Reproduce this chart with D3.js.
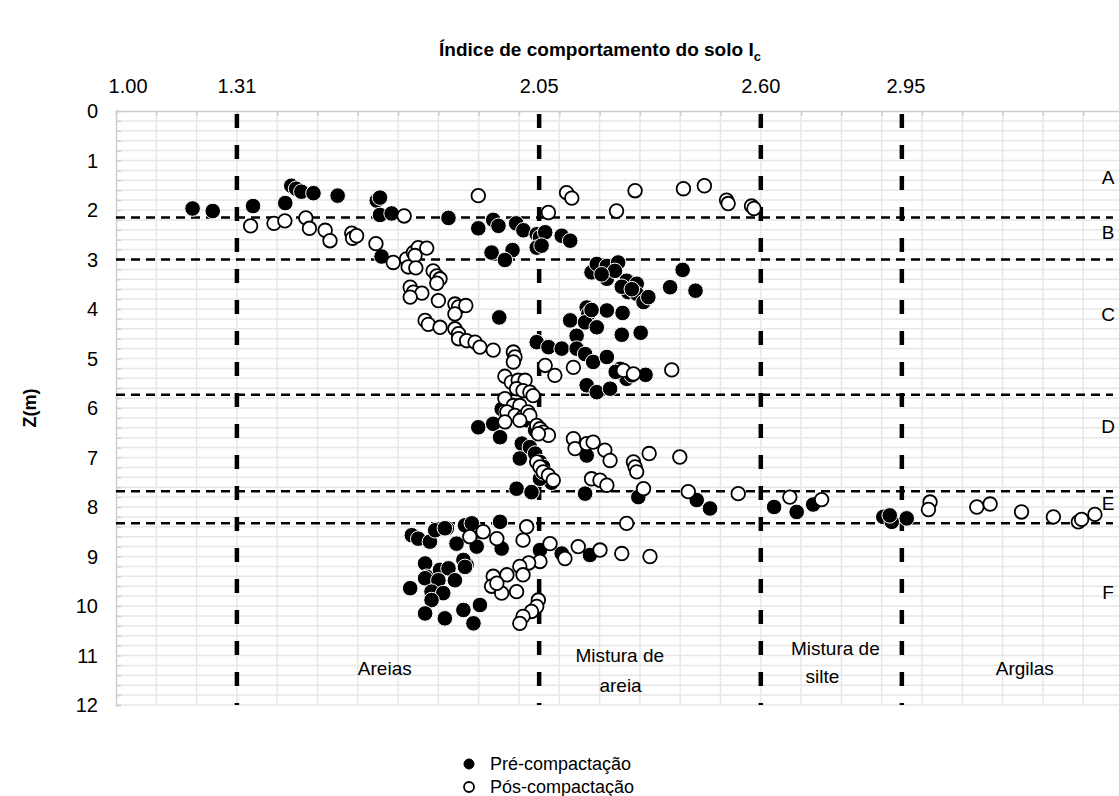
<!DOCTYPE html>
<html><head><meta charset="utf-8">
<script src="https://cdn.jsdelivr.net/npm/d3@7"></script>
<style>body{margin:0;background:#fff}svg{display:block;font-family:"Liberation Sans",Arial,sans-serif}</style>
</head><body><svg id="c" width="1119" height="796"></svg>
<script>
const preData = [
[1.19,1.97],[1.24,2.02],[1.34,1.92],[1.42,1.86],[1.435,1.51],[1.447,1.57],[1.46,1.63],[1.49,1.66],[1.55,1.71],[1.647,1.81],[1.655,1.75],[1.655,2.10],[1.684,2.07],[1.825,2.16],
[1.899,2.37],[1.936,2.20],[1.949,2.32],[1.993,2.27],[2.011,2.41],[2.044,2.49],[2.052,2.55],[2.065,2.45],[2.044,2.76],[2.056,2.72],[2.106,2.52],[2.127,2.62],[1.932,2.86],[1.984,2.81],[1.965,3.01],[1.659,2.94],
[1.951,4.17],[2.180,3.26],[2.193,3.09],[2.218,3.13],[2.246,3.06],[2.218,3.39],[2.238,3.23],[2.267,3.43],[2.292,3.49],[2.271,3.66],[2.292,3.69],[2.309,3.86],[2.321,3.76],[2.375,3.56],[2.406,3.21],[2.438,3.63],[2.127,4.23],[2.168,3.97],[2.172,4.10],[2.164,4.27],[2.193,4.37],[2.218,4.03],[2.257,4.08],[2.255,4.52],[2.302,4.48],[2.143,4.54],[2.044,4.67],[2.073,4.77],[2.106,4.80],[2.143,4.80],[2.164,4.91],[2.184,5.07],[2.218,4.97],[2.251,5.21],[2.267,5.41],[2.280,5.34],[2.314,5.33],[2.168,5.54],[2.193,5.68],[2.226,5.61],[2.205,3.30],[2.255,3.55],[2.280,3.60],[2.180,4.02],[2.240,5.27],
[1.899,6.39],[1.936,6.32],[1.953,6.59],[1.957,6.02],[1.970,6.08],[2.007,6.72],[2.002,7.02],[2.027,6.79],[2.040,6.92],[2.052,7.09],[2.060,7.19],[1.994,7.63],[2.031,7.70],[2.081,7.51],[2.052,7.43],[2.164,7.73],[2.168,6.96],[2.296,7.80],[2.441,7.86],[2.474,8.03],[2.020,6.25],[2.040,6.45],[2.060,7.30],
[2.633,8.00],[2.689,8.10],[2.730,7.95],[2.904,8.20],[2.925,8.30],[2.962,8.23],[2.920,8.17],
[1.821,8.43],[1.878,8.40],[1.899,8.50],[1.953,8.30],[1.957,8.84],[1.845,8.74],[1.895,8.80],[1.870,9.17],[2.052,8.87],[2.106,8.94],[2.176,8.97],[1.734,8.57],[1.750,8.64],[1.779,8.70],[1.792,8.47],[1.816,8.43],[1.866,8.37],[1.883,8.33],[1.767,9.14],[1.771,9.41],[1.804,9.27],[1.825,9.24],[1.862,9.07],[1.866,9.21],[1.730,9.64],[1.767,9.44],[1.800,9.48],[1.841,9.48],[1.783,9.71],[1.812,9.74],[1.783,9.88],[1.767,10.15],[1.816,10.25],[1.862,10.08],[1.887,10.35],[1.903,9.98]
];
const posData = [
[1.899,1.71],[2.118,1.65],[2.131,1.76],[2.288,1.61],[2.408,1.57],[2.460,1.51],[2.073,2.05],[2.242,2.02],[2.515,1.80],[2.519,1.87],[2.577,1.92],[2.583,1.97],[1.715,2.12],
[1.334,2.32],[1.392,2.27],[1.419,2.22],[1.471,2.16],[1.480,2.37],[1.519,2.41],[1.531,2.62],[1.585,2.47],[1.587,2.57],[1.597,2.52],[1.645,2.68],[1.688,3.06],[1.721,2.99],[1.738,2.86],[1.750,2.76],[1.771,2.77],[1.742,2.92],[1.725,3.15],[1.744,3.17],
[1.787,3.23],[1.796,3.33],[1.804,3.39],[1.796,3.48],[1.800,3.83],[1.730,3.56],[1.738,3.66],[1.759,3.68],[1.730,3.76],[1.767,4.23],[1.775,4.31],[1.804,4.37],[1.841,3.90],[1.850,3.96],[1.841,4.10],[1.868,3.93],[1.841,4.40],[1.850,4.50],[1.850,4.60],[1.870,4.64],[1.891,4.67],[1.903,4.77],[1.936,4.83],[1.986,4.87],[1.990,4.97],[1.986,5.07],[2.065,5.14],[2.089,5.34],[2.135,5.18],[2.259,5.24],[2.284,5.31],[2.379,5.23],[1.965,5.36],[1.981,5.48],[1.998,5.44],[2.015,5.44],[1.994,5.61],[2.010,5.65],[2.027,5.68],[2.035,5.75],
[1.965,5.81],[1.986,5.95],[2.002,5.95],[1.970,6.08],[1.990,6.15],[2.010,6.18],[2.022,6.08],[2.027,6.15],[1.965,6.28],[2.002,6.25],[2.044,6.35],[2.052,6.42],[2.060,6.49],[2.073,6.55],[2.048,6.52],[2.135,6.62],[2.139,6.82],[2.168,6.72],[2.184,6.69],[2.213,6.85],[2.226,7.06],[2.284,7.09],[2.288,7.19],[2.292,7.29],[2.323,6.92],[2.399,6.99],[2.044,7.09],[2.052,7.19],[2.060,7.29],[2.073,7.36],[2.085,7.46],[2.180,7.43],[2.201,7.46],[2.218,7.56],[2.309,7.63],[2.420,7.69],
[2.544,7.73],[2.672,7.80],[2.751,7.85],[3.020,7.90],[3.016,8.05],[3.136,8.00],[3.169,7.94],[3.247,8.10],[3.326,8.20],[3.388,8.30],[3.396,8.25],[3.429,8.15],
[2.267,8.33],[2.019,8.40],[2.010,8.67],[1.878,8.60],[1.911,8.50],[1.945,8.64],[2.077,8.74],[2.147,8.80],[2.201,8.87],[2.255,8.94],[2.325,9.00],[2.114,9.04],[2.052,9.10],[2.024,9.13],[2.002,9.20],[2.010,9.37],[1.970,9.37],[1.936,9.40],[1.932,9.60],[1.957,9.74],[1.994,9.71],[1.945,9.54],[2.048,9.88],[2.044,10.01],[2.031,10.11],[2.010,10.21],[2.002,10.35]
];
const boundaryIc = [1.30, 2.05, 2.60, 2.95];
const topTickValues = [1.03, 1.30, 2.05, 2.60, 2.96];
const topTickLabels = ["1.00", "1.31", "2.05", "2.60", "2.95"];
const layerDepths = [2.15, 3.0, 5.73, 7.68, 8.33];
const layerNames = ["A", "B", "C", "D", "E", "F"];
const layerLabelZ = [1.35, 2.46, 4.1, 6.37, 7.92, 9.72];
const zoneNames = [["Areias"], ["Mistura de", "areia"], ["Mistura de", "silte"], ["Argilas"]];
const zoneIc = [[1.667], [2.25, 2.252], [2.785, 2.753], [3.255]];
const zoneZ = [[11.25], [11.0, 11.6], [10.86, 11.42], [11.25]];
const yTicks = d3.range(0, 13);
const seriesNames = ["Pré-compactação", "Pós-compactação"];

const svg = d3.select("#c");
const x = d3.scaleLinear().domain([1.0, 3.5]).range([116, 1123.5]);
const y = d3.scaleLinear().domain([0, 12]).range([111, 705]);
const [x0, x1] = x.range(), [y0, y1] = y.range();

// gridlines
const grid = svg.append("g").attr("stroke", "#e7e7e7").attr("stroke-width", 1.5);
grid.selectAll(".gv").data(d3.range(1.1, 3.5, 0.1)).join("line")
  .attr("x1", d => x(d)).attr("x2", d => x(d)).attr("y1", y0).attr("y2", y1);
grid.selectAll(".gh").data(d3.range(0.2, 12.01, 0.2)).join("line")
  .attr("x1", x0).attr("x2", x1).attr("y1", d => y(d)).attr("y2", d => y(d));

// axes
const xAxis = d3.axisTop(x).tickValues(d3.range(1.0, 3.5, 0.1)).tickSize(-5).tickFormat("");
svg.append("g").attr("transform", `translate(0,${y0})`).call(xAxis)
  .call(g => { g.select(".domain").attr("stroke", "#cfcfcf").attr("stroke-width", 1.5); g.selectAll(".tick line").attr("stroke", "#cfcfcf").attr("stroke-width", 1.5); });
const yAxis = d3.axisLeft(y).tickValues(d3.range(0, 12.01, 0.2)).tickSize(-5).tickFormat("");
svg.append("g").attr("transform", `translate(${x0},0)`).call(yAxis)
  .call(g => { g.select(".domain").attr("stroke", "#cfcfcf").attr("stroke-width", 1.5); g.selectAll(".tick line").attr("stroke", "#cfcfcf").attr("stroke-width", 1.5); });

// y tick labels
svg.append("g").selectAll("text").data(yTicks).join("text")
  .attr("x", 98).attr("y", d => y(d)).attr("dy", "0.35em").attr("text-anchor", "end")
  .attr("font-size", 20).attr("fill", "#000").text(d => d);

// top labels
svg.append("g").selectAll("text").data(topTickValues).join("text")
  .attr("x", d => x(d)).attr("y", 93).attr("text-anchor", "middle")
  .attr("font-size", 20).text((d, i) => topTickLabels[i]);

// title
const title = svg.append("text").attr("x", 600).attr("y", 56).attr("text-anchor", "middle")
  .attr("font-size", 19).attr("font-weight", "bold");
title.append("tspan").text("Índice de comportamento do solo I");
title.append("tspan").attr("font-size", 13).attr("dy", 5).text("c");

// y title
svg.append("text").attr("transform", `translate(36,${(y0 + y1) / 2}) rotate(-90)`)
  .attr("text-anchor", "middle").attr("font-size", 18).attr("font-weight", "bold").text("Z(m)");

// horizontal layer boundaries
svg.append("g").selectAll("line").data(layerDepths).join("line")
  .attr("x1", x0).attr("x2", 1113).attr("y1", d => y(d)).attr("y2", d => y(d))
  .attr("stroke", "#000").attr("stroke-width", 2.5).attr("stroke-dasharray", "9,6");

// vertical zone boundaries
svg.append("g").selectAll("line").data(boundaryIc).join("line")
  .attr("x1", d => x(d)).attr("x2", d => x(d)).attr("y1", y0 + 3).attr("y2", y1)
  .attr("stroke", "#000").attr("stroke-width", 4.5).attr("stroke-dasharray", "14,17");

// layer labels
svg.append("g").selectAll("text").data(layerNames).join("text")
  .attr("x", 1108).attr("y", (d, i) => y(layerLabelZ[i])).attr("dy", "0.35em").attr("text-anchor", "middle")
  .attr("font-size", 19).text(d => d);

// zone labels
zoneNames.forEach((lines, i) => {
  const t = svg.append("text").attr("text-anchor", "middle").attr("font-size", 19);
  lines.forEach((s, j) => t.append("tspan").attr("x", x(zoneIc[i][j])).attr("y", y(zoneZ[i][j])).attr("dy", "0.35em").text(s));
});

// points
svg.append("g").selectAll("circle").data(preData).join("circle")
  .attr("cx", d => x(d[0])).attr("cy", d => y(d[1])).attr("r", 7.8)
  .attr("fill", "#000").attr("stroke", "#fff").attr("stroke-width", 1);
svg.append("g").selectAll("circle").data(posData).join("circle")
  .attr("cx", d => x(d[0])).attr("cy", d => y(d[1])).attr("r", 6.8)
  .attr("fill", "#fff").attr("stroke", "#000").attr("stroke-width", 1.8);

// legend
const lg = svg.append("g").attr("transform", "translate(469,764)");
seriesNames.forEach((s, i) => {
  lg.append("circle").attr("cx", 0).attr("cy", i * 23).attr("r", 5)
    .attr("fill", i === 0 ? "#000" : "#fff").attr("stroke", "#000").attr("stroke-width", i === 0 ? 1 : 1.8);
  lg.append("text").attr("x", 21).attr("y", i * 23).attr("dy", "0.35em").attr("font-size", 18).text(s);
});
</script></body></html>
